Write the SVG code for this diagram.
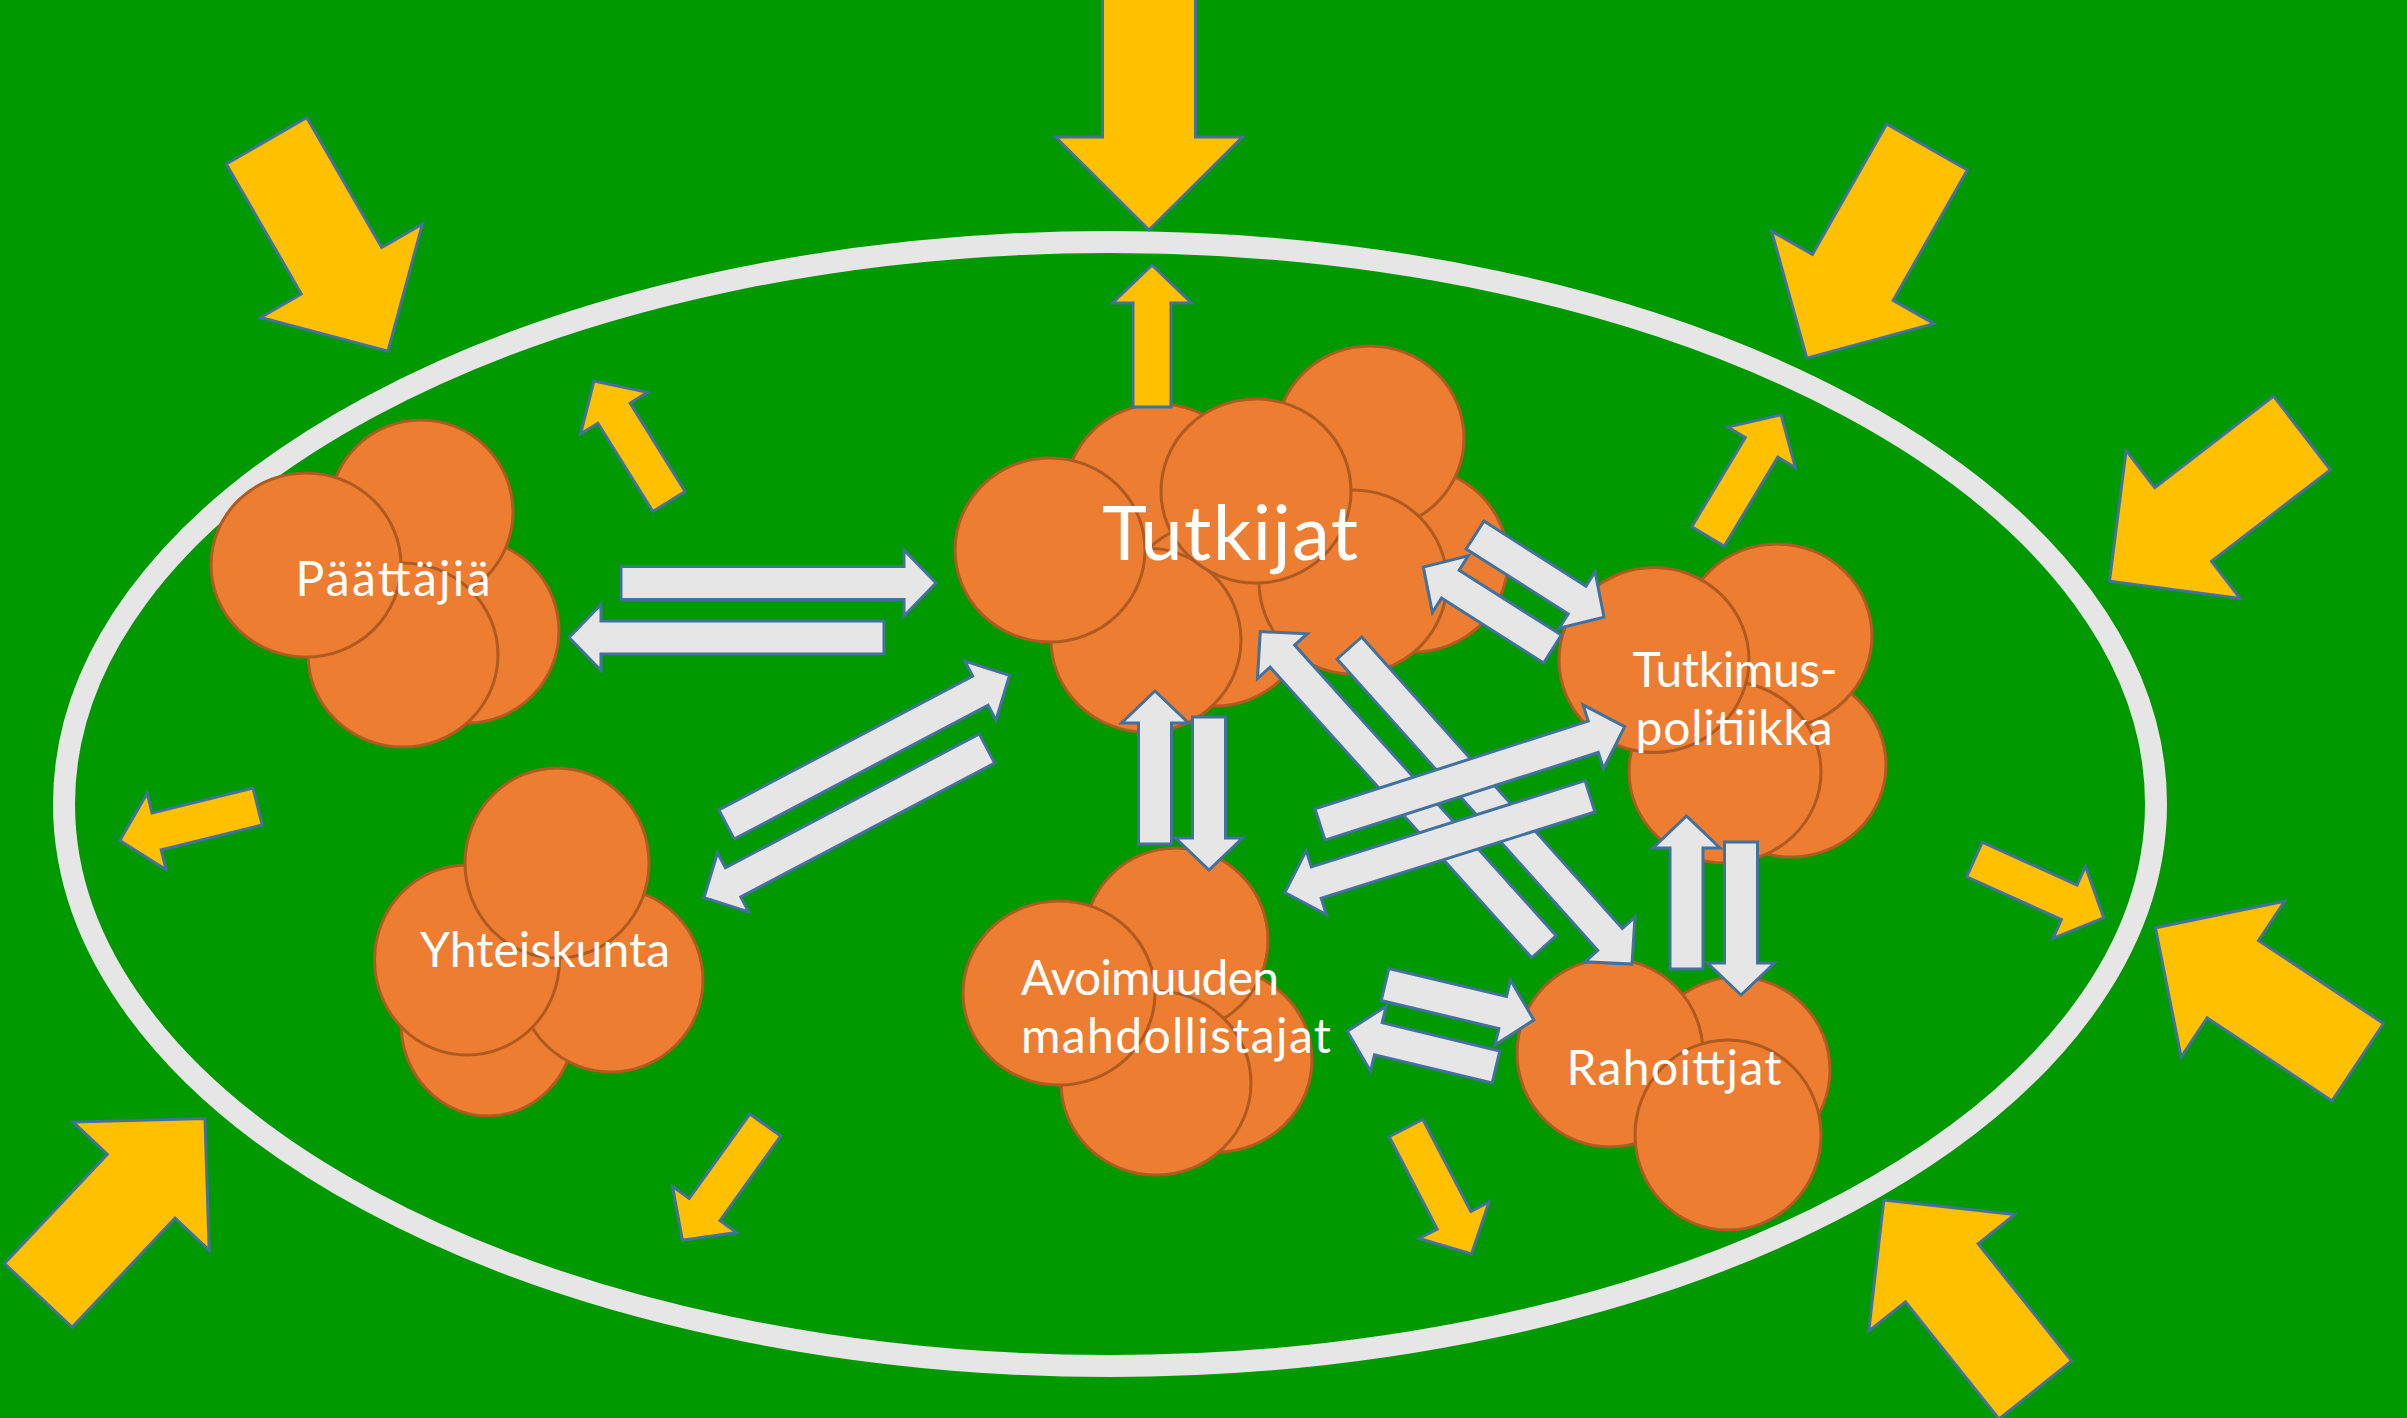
<svg xmlns="http://www.w3.org/2000/svg" xmlns:xlink="http://www.w3.org/1999/xlink" width="2407" height="1418" viewBox="0 0 2407 1418">
<style>
.c{fill:#ED7D31;stroke:#AE5A21;stroke-width:3}
.y{fill:#FFC000;stroke:#41719C;stroke-width:3;stroke-linejoin:miter}
.w{fill:#E7E6E6;stroke:#41719C;stroke-width:3;stroke-linejoin:miter}
.t{fill:#FFFFFF;font-family:Lato,"Open Sans","DejaVu Sans",sans-serif;font-size:48px}
.tm{text-anchor:middle}
</style>
<defs>
<path id="bigY" d="M0,-46.5 H150 V-93.5 L243,0 L150,93.5 V46.5 H0 Z"/>
<path id="smY" d="M0,-19 H104 V-39.5 L142,0 L104,39.5 V19 H0 Z"/>
<path id="w153" d="M0,-16.5 H121 V-33.5 L153,0 L121,33.5 V16.5 H0 Z"/>
<path id="w315" d="M0,-16.5 H283 V-33 L315,0 L283,33 V16.5 H0 Z"/>
<path id="w320" d="M0,-16.5 H287 V-33.5 L320,0 L287,33.5 V16.5 H0 Z"/>
<path id="w424" d="M0,-16.5 H391 V-33.5 L424,0 L391,33.5 V16.5 H0 Z"/>
</defs>
<rect x="0" y="0" width="2407" height="1418" fill="#009900"/>
<ellipse id="ring" cx="1110" cy="804" rx="1046" ry="562" fill="none" stroke="#E7E6E6" stroke-width="22"/>

<g id="node-paattajia">
<ellipse class="c" cx="467" cy="631" rx="92" ry="92"/>
<ellipse class="c" cx="421" cy="512" rx="92" ry="92"/>
<ellipse class="c" cx="403" cy="655" rx="95" ry="92"/>
<ellipse class="c" cx="306" cy="565" rx="95" ry="92"/>
<text class="t tm" x="393" y="596" textLength="195" lengthAdjust="spacing">Päättäjiä</text>
</g>

<g id="node-tutkijat">
<ellipse class="c" cx="1414" cy="560" rx="94" ry="92"/>
<ellipse class="c" cx="1370" cy="438" rx="94" ry="92"/>
<ellipse class="c" cx="1159" cy="496" rx="94" ry="92"/>
<ellipse class="c" cx="1215" cy="614" rx="94" ry="92"/>
<ellipse class="c" cx="1353" cy="582" rx="94" ry="92"/>
<ellipse class="c" cx="1146" cy="640" rx="95" ry="92"/>
<ellipse class="c" cx="1256" cy="491" rx="95" ry="92"/>
<ellipse class="c" cx="1050" cy="550" rx="95" ry="92"/>
<text class="t tm" x="1230" y="560" style="font-size:76px" textLength="256" lengthAdjust="spacing">Tutkijat</text>
</g>

<g id="node-yhteiskunta">
<ellipse class="c" cx="488" cy="1024" rx="87" ry="92"/>
<ellipse class="c" cx="611" cy="980" rx="92" ry="92"/>
<ellipse class="c" cx="467" cy="960" rx="92.5" ry="95"/>
<ellipse class="c" cx="557" cy="863" rx="92" ry="95"/>
<text class="t tm" x="545" y="967" textLength="250" lengthAdjust="spacing">Yhteiskunta</text>
</g>

<g id="node-avoimuuden">
<ellipse class="c" cx="1217" cy="1060" rx="95" ry="92"/>
<ellipse class="c" cx="1176" cy="940" rx="92" ry="92"/>
<ellipse class="c" cx="1156" cy="1083" rx="95" ry="92"/>
<ellipse class="c" cx="1059" cy="993" rx="96" ry="92"/>
<text class="t" x="1021" y="995" textLength="258" lengthAdjust="spacing">Avoimuuden</text>
<text class="t" x="1021" y="1053" textLength="310" lengthAdjust="spacing">mahdollistajat</text>
</g>

<g id="node-tutkimuspolitiikka">
<ellipse class="c" cx="1791" cy="765" rx="95" ry="92"/>
<ellipse class="c" cx="1777" cy="636" rx="95" ry="92"/>
<ellipse class="c" cx="1725" cy="772" rx="96" ry="91"/>
<ellipse class="c" cx="1654" cy="660" rx="95" ry="92.5"/>
<text class="t tm" x="1735" y="687" textLength="205" lengthAdjust="spacing">Tutkimus-</text>
<text class="t tm" x="1734" y="745" textLength="197" lengthAdjust="spacing">politiikka</text>
</g>

<g id="node-rahoittjat">
<ellipse class="c" cx="1737" cy="1070" rx="93" ry="93"/>
<ellipse class="c" cx="1610" cy="1053" rx="93" ry="94"/>
<ellipse class="c" cx="1728" cy="1135" rx="93" ry="95"/>
<text class="t tm" x="1674" y="1085" textLength="215" lengthAdjust="spacing">Rahoittjat</text>
</g>

<g id="connectors">
<use xlink:href="#bigY" class="y" transform="translate(266.5,140.8) rotate(60)"/>
<use xlink:href="#bigY" class="y" transform="translate(1149,-13) rotate(90)"/>
<use xlink:href="#bigY" class="y" transform="translate(1927,147) rotate(119.65)"/>
<use xlink:href="#bigY" class="y" transform="translate(2302,433) rotate(142.4)"/>
<use xlink:href="#bigY" class="y" transform="translate(2357.8,1062.2) rotate(213.6)"/>
<use xlink:href="#bigY" class="y" transform="translate(2035.4,1390) rotate(231.4)"/>
<use xlink:href="#bigY" class="y" transform="translate(38.3,1295.4) rotate(-46.7)"/>

<use xlink:href="#smY" class="y" transform="translate(669,501.5) rotate(-121.9)"/>
<use xlink:href="#smY" class="y" transform="translate(257.6,806.5) rotate(166.1)"/>
<use xlink:href="#smY" class="y" transform="translate(765.3,1125) rotate(125.7)"/>
<use xlink:href="#smY" class="y" transform="translate(1974.4,859.5) rotate(24.3)"/>
<use xlink:href="#smY" class="y" transform="translate(1406,1128) rotate(62.5)"/>
<use xlink:href="#smY" class="y" transform="translate(1152,407) rotate(-90)"/>
<use xlink:href="#smY" class="y" transform="translate(1708,536.5) rotate(-59)"/>

<use xlink:href="#w315" class="w" transform="translate(621,583)"/>
<use xlink:href="#w315" class="w" transform="translate(884,637.5) rotate(180)"/>
<use xlink:href="#w320" class="w" transform="translate(726.5,824.5) rotate(-27.8)"/>
<use xlink:href="#w320" class="w" transform="translate(987,748.5) rotate(152.2)"/>
<use xlink:href="#w153" class="w" transform="translate(1155,844) rotate(-90)"/>
<use xlink:href="#w153" class="w" transform="translate(1209,717) rotate(90)"/>
<use xlink:href="#w153" class="w" transform="translate(1475,535) rotate(32.5)"/>
<use xlink:href="#w153" class="w" transform="translate(1552.5,649) rotate(212.4)"/>
<use xlink:href="#w424" class="w" transform="translate(1544,946.7) rotate(228)"/>
<use xlink:href="#w424" class="w" transform="translate(1349.4,648) rotate(48.2)"/>
<use xlink:href="#w320" class="w" transform="translate(1320,824.5) rotate(-17.8)"/>
<use xlink:href="#w320" class="w" transform="translate(1590,796.3) rotate(162.5)"/>
<use xlink:href="#w153" class="w" transform="translate(1686.5,969) rotate(-90)"/>
<use xlink:href="#w153" class="w" transform="translate(1741,842) rotate(90)"/>
<use xlink:href="#w153" class="w" transform="translate(1385,984.5) rotate(13.4)"/>
<use xlink:href="#w153" class="w" transform="translate(1496,1067) rotate(193.5)"/>
</g>
</svg>
